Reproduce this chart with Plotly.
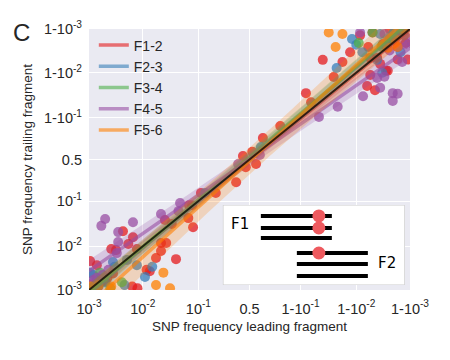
import numpy as np
import plotly.graph_objects as go

# SNP frequencies, leading vs trailing fragment, per fragment pair
series_names = ["F1-2", "F2-3", "F3-4", "F4-5", "F5-6"]
series_colors = ["#e41a1c", "#377eb8", "#4daf4a", "#984ea3", "#ff7f00"]

f12_leading = [0.64, 0.43, 0.53, 0.57, 0.46, 0.36, 0.19, 0.069, 0.79, 0.919, 0.934,
               0.959, 0.982, 0.974, 0.987, 0.9937, 0.9955, 0.9974, 0.9983, 0.9989,
               0.9964, 0.994, 0.9983, 0.9945, 0.9972, 0.995, 0.9915, 0.9976, 0.9945,
               0.9959, 0.0043, 0.0066, 0.0054, 0.0026, 0.0032, 0.0078, 0.00105, 0.0176,
               0.0406, 0.0217, 0.027, 0.0217, 0.0256, 0.034, 0.067, 0.081, 0.078,
               0.0135, 0.0064, 0.0014, 0.11, 0.0118, 0.008, 0.0017, 0.0022,
               0.9985, 0.9992, 0.9978, 0.999, 0.9988, 0.9995, 0.9968,
               0.0011, 0.0009, 0.0015, 0.0012, 0.002, 0.0008, 0.0028]
f12_trailing = [0.757, 0.546, 0.60, 0.44, 0.40, 0.23, 0.145, 0.082, 0.855, 0.971, 0.954,
                0.9949, 0.9943, 0.9875, 0.9966, 0.98, 0.975, 0.991, 0.995, 0.995,
                0.9937, 0.9974, 0.9974, 0.9954, 0.991, 0.9988, 0.9986, 0.999, 0.9887,
                0.9954, 0.022, 0.016, 0.0113, 0.0087, 0.0082, 0.0087, 0.0046, 0.0054,
                0.0051, 0.0119, 0.0119, 0.0078, 0.039, 0.032, 0.043, 0.027, 0.082,
                0.0027, 0.0012, 0.0037, 0.145, 0.0029, 0.0011, 0.0016, 0.0019,
                0.9988, 0.9991, 0.9982, 0.9995, 0.9979, 0.9992, 0.9978,
                0.0013, 0.0010, 0.0012, 0.0008, 0.0016, 0.0011, 0.0024]

f23_leading = [0.988, 0.990, 0.977, 0.9967, 0.9959, 0.998, 0.9964, 0.9923, 0.9985,
               0.62, 0.129, 0.015, 0.011, 0.0051, 0.0028, 0.0012, 0.00105, 0.003,
               0.0078, 0.002, 0.0046, 0.9987, 0.9993, 0.9975, 0.999,
               0.0013, 0.0009, 0.0016, 0.0011]
f23_trailing = [0.9983, 0.9977, 0.9922, 0.990, 0.9949, 0.9988, 0.9987, 0.9966, 0.9966,
                0.66, 0.145, 0.0034, 0.002, 0.0049, 0.0044, 0.0022, 0.0025, 0.0034,
                0.0037, 0.0015, 0.0013, 0.9991, 0.9989, 0.998, 0.9994,
                0.0011, 0.0012, 0.0018, 0.0008]

f34_leading = [0.991, 0.995, 0.9976, 0.9987, 0.9966, 0.0016, 0.0041, 0.0013, 0.0025,
               0.0019, 0.9989, 0.9993, 0.998, 0.0011, 0.0009, 0.0014]
f34_trailing = [0.9979, 0.9988, 0.9983, 0.9986, 0.9975, 0.0025, 0.0015, 0.0013, 0.0011,
                0.0019, 0.9992, 0.9988, 0.9984, 0.0012, 0.0009, 0.0016]

f45_leading = [0.978, 0.952, 0.9925, 0.9964, 0.9979, 0.9983, 0.9979, 0.9959, 0.9986,
               0.9987, 0.997, 0.9915, 0.997, 0.38, 0.61, 0.048, 0.002, 0.0017, 0.0066,
               0.0035, 0.0035, 0.0033, 0.0217, 0.045, 0.0012, 0.0023,
               0.9988, 0.9993, 0.9991, 0.9982, 0.9995, 0.9976,
               0.0011, 0.0009, 0.0014, 0.0012, 0.0018, 0.0008]
f45_trailing = [0.942, 0.905, 0.966, 0.978, 0.971, 0.970, 0.957, 0.9868, 0.9943,
                0.9977, 0.9987, 0.9988, 0.9877, 0.44, 0.56, 0.091, 0.041, 0.029, 0.035,
                0.021, 0.0125, 0.007, 0.053, 0.061, 0.0017, 0.0029,
                0.9985, 0.9992, 0.9978, 0.9984, 0.9994, 0.9969,
                0.0014, 0.0011, 0.0019, 0.0009, 0.0022, 0.0012]

f56_leading = [0.968, 0.982, 0.976, 0.9974, 0.9983, 0.9987, 0.024, 0.0176, 0.0317,
               0.0026, 0.00105, 0.9989, 0.9993, 0.9981, 0.9991,
               0.0012, 0.0009, 0.0015, 0.0011]
f56_trailing = [0.9988, 0.9987, 0.9974, 0.9973, 0.9974, 0.999, 0.0025, 0.0013, 0.0011,
                0.0012, 0.0012, 0.9992, 0.9988, 0.9983, 0.9995,
                0.001, 0.0011, 0.0013, 0.0008]

leading = [f12_leading, f23_leading, f34_leading, f45_leading, f56_leading]
trailing = [f12_trailing, f23_trailing, f34_trailing, f45_trailing, f56_trailing]

tick_freqs = [1e-3, 1e-2, 1e-1, 0.5, 1 - 1e-1, 1 - 1e-2, 1 - 1e-3]
tick_labels = ["10<sup>-3</sup>", "10<sup>-2</sup>", "10<sup>-1</sup>", "0.5",
               "1-10<sup>-1</sup>", "1-10<sup>-2</sup>", "1-10<sup>-3</sup>"]

# inset schematic: rows of reads (start, end, y) and SNP dots (x, y)
inset_reads = [(38, 109, 11), (38, 109, 23), (38, 109, 33),
               (74, 145, 48), (74, 145, 59), (74, 145, 71)]
inset_snps = [(96, 11), (96, 23), (96, 48)]


def logit(p):
    p = np.asarray(p, dtype=float)
    return np.log(p / (1 - p))


def rgba(hex_color, a):
    h = hex_color.lstrip("#")
    r, g, b = int(h[0:2], 16), int(h[2:4], 16), int(h[4:6], 16)
    return f"rgba({r},{g},{b},{a})"


lo, hi = logit(tick_freqs[0]), logit(tick_freqs[-1])
fig = go.Figure()

for name, color, xs, ys in zip(series_names, series_colors, leading, trailing):
    fig.add_trace(go.Scatter(
        x=logit(xs), y=logit(ys), mode="markers", showlegend=False,
        marker=dict(size=10, color=color, opacity=0.75, line=dict(width=0)),
    ))

for name, color, xs, ys in zip(series_names, series_colors, leading, trailing):
    x = logit(xs)
    y = logit(ys)
    slope, icpt = np.polyfit(x, y, 1)
    n = len(x)
    resid = y - (slope * x + icpt)
    s = np.sqrt(np.sum(resid ** 2) / (n - 2))
    sxx = np.sum((x - x.mean()) ** 2)
    grid = np.linspace(lo, hi, 120)
    fit = slope * grid + icpt
    se = s * np.sqrt(1 / n + (grid - x.mean()) ** 2 / sxx)
    fig.add_trace(go.Scatter(
        x=np.concatenate([grid, grid[::-1]]),
        y=np.concatenate([fit + 1.96 * se, (fit - 1.96 * se)[::-1]]),
        fill="toself", fillcolor=rgba(color, 0.22), line=dict(width=0),
        mode="lines", showlegend=False, hoverinfo="skip",
    ))
    fig.add_trace(go.Scatter(
        x=grid, y=fit, mode="lines", name=name,
        line=dict(color=rgba(color, 0.6), width=3.5),
    ))

fig.add_trace(go.Scatter(
    x=[lo, hi], y=[lo, hi], mode="lines", showlegend=False,
    line=dict(color="rgba(0,0,0,0.75)", width=2),
))

axis_common = dict(
    range=[lo, hi], tickvals=logit(tick_freqs), ticktext=tick_labels,
    showgrid=True, gridcolor="white", gridwidth=1.3, zeroline=False,
    ticks="", showline=False,
    tickfont=dict(family="Liberation Sans", size=14.5, color="#262626"),
    title_font=dict(family="Liberation Sans", size=13.5, color="#262626"),
)
fig.update_xaxes(title_text="SNP frequency leading fragment", ticklabelstandoff=8,
                 title_standoff=6, **axis_common)
fig.update_yaxes(title_text="SNP frequency trailing fragment", ticklabelstandoff=6,
                 title_standoff=8, **axis_common)

# inset axes for the schematic
fig.update_layout(
    xaxis2=dict(domain=[0.417, 0.984], range=[0, 182], visible=False, anchor="y2"),
    yaxis2=dict(domain=[0.019, 0.326], range=[80, 0], visible=False, anchor="x2"),
)
shapes = [dict(type="rect", xref="x2", yref="y2", x0=0, x1=182, y0=0, y1=80,
               fillcolor="white", line=dict(color="#cccccc", width=1.3), layer="above")]
for x0, x1, yy in inset_reads:
    shapes.append(dict(type="line", xref="x2", yref="y2", x0=x0, x1=x1, y0=yy, y1=yy,
                       line=dict(color="black", width=4), layer="above"))
for cx, cy in inset_snps:
    shapes.append(dict(type="circle", xref="x2", yref="y2", x0=cx - 6.5, x1=cx + 6.5,
                       y0=cy - 6.5, y1=cy + 6.5, fillcolor="#ee5a5f",
                       line=dict(width=0), layer="above"))

fig.update_layout(
    width=442, height=352,
    margin=dict(l=81, r=40, t=21, b=70),
    paper_bgcolor="white", plot_bgcolor="#eaeaf2",
    shapes=shapes,
    legend=dict(x=0.015, y=0.998, xanchor="left", yanchor="top",
                bgcolor="rgba(0,0,0,0)",
                font=dict(family="Liberation Sans", size=14, color="#262626")),
    annotations=[
        dict(text="C", xref="paper", yref="paper", x=-0.21, y=0.985,
             xanchor="center", yanchor="middle", showarrow=False,
             font=dict(family="Liberation Sans", size=24, color="#262626")),
        dict(text="F1", xref="x2", yref="y2", x=17, y=19, showarrow=False,
             font=dict(family="DejaVu Sans", size=15, color="black")),
        dict(text="F2", xref="x2", yref="y2", x=164, y=58, showarrow=False,
             font=dict(family="DejaVu Sans", size=15, color="black")),
    ],
)

fig.write_html("out.html")
